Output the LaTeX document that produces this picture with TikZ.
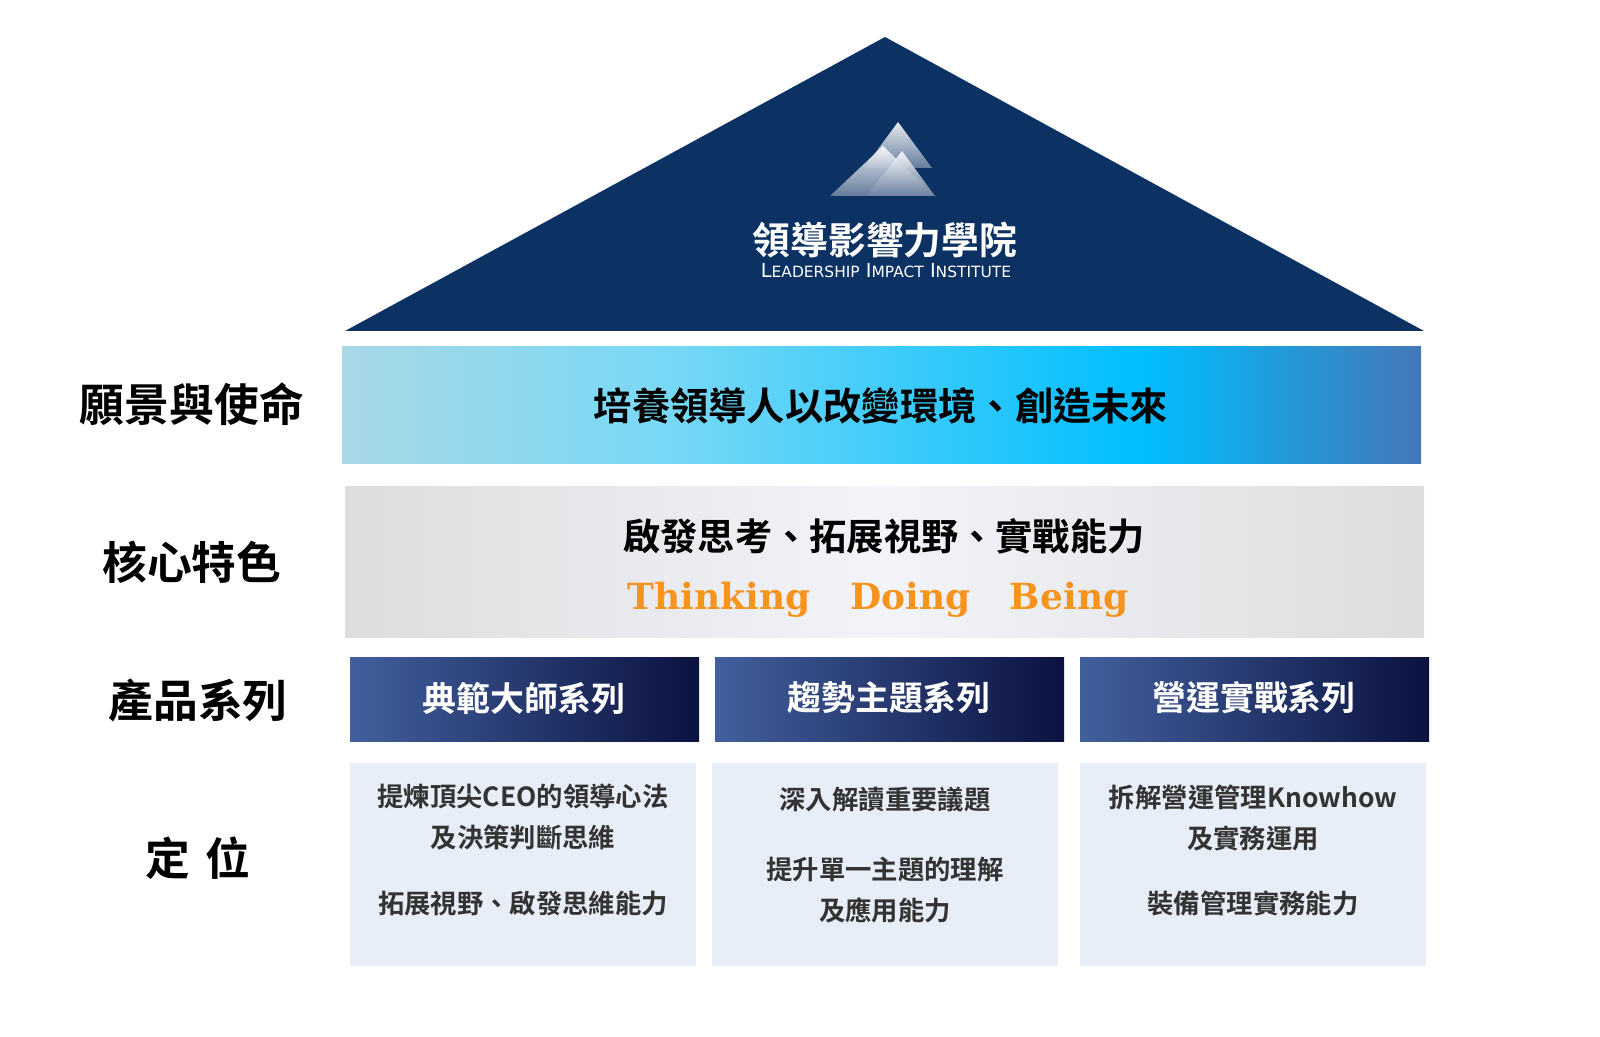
\documentclass[tikz,border=0pt]{standalone}
\usepackage{fontspec}
\newfontfamily\cjk{Noto Sans CJK TC}[BoldFont={Noto Sans CJK TC Bold}]
\newfontfamily\lat{DejaVu Serif}
\newfontfamily\sans{DejaVu Sans}
\definecolor{roof}{HTML}{0C3163}
\definecolor{b1}{HTML}{A8D8E6}
\definecolor{b2}{HTML}{78D8F5}
\definecolor{b3}{HTML}{00BEFF}
\definecolor{b4}{HTML}{4478B8}
\definecolor{g1}{HTML}{DDDDDD}
\definecolor{g2}{HTML}{F2F4FA}
\definecolor{pl}{HTML}{42609E}
\definecolor{pr}{HTML}{0B1240}
\definecolor{bot}{HTML}{E8EEF8}
\definecolor{org}{HTML}{F7941D}
\definecolor{txt}{HTML}{333333}
\pgfdeclarehorizontalshading{bandA}{100bp}{color(0bp)=(b1); color(25bp)=(b1); color(40bp)=(b2); color(62bp)=(b3); color(75bp)=(b4); color(100bp)=(b4)}
\pgfdeclarehorizontalshading{bandB}{100bp}{color(0bp)=(g1); color(25bp)=(g1); color(50bp)=(g2); color(75bp)=(g1); color(100bp)=(g1)}
\tikzset{
 lab/.style={font=\cjk\bfseries\fontsize{25.5}{28}\selectfont, text=black},
 prod/.style={left color=pl, right color=pr, draw=none},
 prodtxt/.style={font=\cjk\bfseries\fontsize{19.3}{22}\selectfont, text=white},
 botbox/.style={fill=bot, draw=none},
 bottxt/.style={font=\cjk\bfseries\fontsize{15}{23}\selectfont, text=txt, align=center},
 mtn/.style={top color=white, bottom color=roof!60!white, draw=none, opacity=0.9}
}
\begin{document}
\begin{tikzpicture}[x=0.02cm,y=-0.02cm]
\useasboundingbox (0,0) rectangle (1600,1037);
% roof
\fill[roof] (885,37) -- (1424,331) -- (345,331) -- cycle;
\path[mtn] (898,122) -- (932,168) -- (864,168) -- cycle;
\path[mtn] (883,146) -- (935,196) -- (830,196) -- cycle;
\path[mtn] (902,151) -- (935,196) -- (866,196) -- cycle;
\node[font=\cjk\bfseries\fontsize{21.5}{24}\selectfont, text=white] (logo) at (885,240) {領導影響力學院};
\node[font=\sans\fontsize{11}{12}\selectfont, text=white] (logosub) at (886,271) {L\scalebox{0.8}{EADERSHIP} I\scalebox{0.8}{MPACT} I\scalebox{0.8}{NSTITUTE}};
% band 1
\path[shading=bandA] (342,347) rectangle (1421,463);
\node[font=\cjk\bfseries\fontsize{21.8}{24}\selectfont] (vision) at (881,406) {培養領導人以改變環境、創造未來};
% band 2
\path[shading=bandB] (345,486) rectangle (1424,637);
\node[font=\cjk\bfseries\fontsize{21.2}{24}\selectfont] (core) at (884,536) {啟發思考、拓展視野、實戰能力};
\node[font=\lat\bfseries\fontsize{20.5}{24}\selectfont, text=org] (tdb) at (878,600) {Thinking\hspace{1.1em}Doing\hspace{1.1em}Being};
% labels
\node[lab] (l1) at (192,404) {願景與使命};
\node[lab] (l2) at (192,562) {核心特色};
\node[lab] (l3) at (198,700) {產品系列};
\node[lab] (l4) at (198,858) {定\,\,位};
% products
\path[prod] (350,657) rectangle (699,741);
\path[prod] (715,657) rectangle (1064,741);
\path[prod] (1080,657) rectangle (1429,741);
\node[prodtxt] (p1) at (524,698) {典範大師系列};
\node[prodtxt] (p2) at (889,698) {趨勢主題系列};
\node[prodtxt] (p3) at (1254,698) {營運實戰系列};
% positioning
\path[botbox] (350,763) rectangle (696,966);
\path[botbox] (712,763) rectangle (1058,966);
\path[botbox] (1080,763) rectangle (1426,966);
\node[bottxt] (d1a) at (523,817) {提煉頂尖CEO的領導心法\\及決策判斷思維};
\node[bottxt] (d1b) at (523,904) {拓展視野、啟發思維能力};
\node[bottxt] (d2a) at (885,800) {深入解讀重要議題};
\node[bottxt] (d2b) at (885,890) {提升單一主題的理解\\及應用能力};
\node[bottxt] (d3a) at (1253,818) {拆解營運管理Knowhow\\及實務運用};
\node[bottxt] (d3b) at (1253,903) {裝備管理實務能力};
\end{tikzpicture}
\end{document}
